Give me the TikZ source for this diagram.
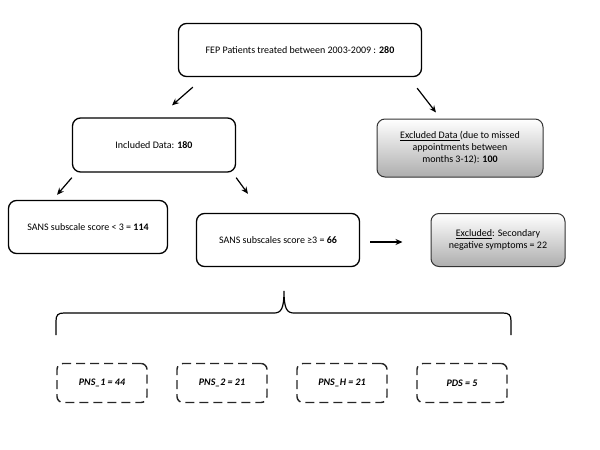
\documentclass[tikz,border=0pt]{standalone}
\usepackage{fontspec}
\setmainfont{Carlito}
\usetikzlibrary{arrows.meta}
\definecolor{boxgrey}{gray}{0.68}
\tikzset{
  roundbox/.style = {draw = black, line width = 1.3pt, rounded corners = 8pt, align = center, font = \fontsize{10}{12}\selectfont},
  greybox/.style = {roundbox, top color = white, bottom color = boxgrey, draw = black!80, line width = 1pt},
  dashbox/.style = {draw = black!85, line width = 1.4pt, rounded corners = 6pt, dash pattern = on 9pt off 5pt, minimum width = 90pt, minimum height = 39pt, font = \fontsize{10}{12}\selectfont\bfseries\itshape},
  arr/.style = {line width = 1.2pt, -{Stealth[length = 7pt, width = 6pt]}}
}
\begin{document}
\begin{tikzpicture}[x = 1pt, y = -1pt]
\useasboundingbox (0,0) rectangle (600,450);
\node[roundbox, minimum width = 243pt, minimum height = 53pt] (fep) at (300,50) {FEP Patients treated between 2003-2009 : \textbf{280}};
\node[roundbox, minimum width = 163pt, minimum height = 54pt] (incl) at (154,145) {Included Data: \textbf{180}};
\node[greybox, minimum width = 166pt, minimum height = 58pt] (excl) at (460,148) {\underline{Excluded Data\ }(due to missed\\appointments between\\months 3-12): \textbf{100}};
\node[roundbox, minimum width = 159pt, minimum height = 53pt] (low) at (88,227) {SANS subscale score < 3 = \textbf{114}};
\node[roundbox, minimum width = 163pt, minimum height = 53pt] (high) at (278,240) {SANS subscales score ≥3 = \textbf{66}};
\node[greybox, minimum width = 134pt, minimum height = 53pt] (sec) at (498,240) {\underline{Excluded}: Secondary\\negative symptoms = 22};
\draw[arr] ([xshift = 15pt, yshift = -10pt]fep.south west) -- ([xshift = 18pt, yshift = 12pt]incl.north);
\draw[arr] ([xshift = -5pt, yshift = -11pt]fep.south east) -- ([xshift = -24pt, yshift = 6pt]excl.north);
\draw[arr] ([yshift = -5pt]incl.south west) -- ([xshift = -31pt, yshift = 5pt]low.north);
\draw[arr] ([yshift = -5pt]incl.south east) -- ([xshift = -30pt, yshift = 19pt]high.north);
\draw[arr] ([xshift = 10pt, yshift = -2pt]high.east) -- ([xshift = -28pt, yshift = -2pt]sec.west);
\draw[line width = 1.2pt] (56,335) -- (56,321) .. controls (56,315) and (58,313) .. (64,313) -- (274,313) .. controls (281,313) and (284,309) .. (284,291) .. controls (284,309) and (287,313) .. (294,313) -- (503,313) .. controls (509,313) and (511,315) .. (511,321) -- (511,335);
\foreach \x/\name/\lab in {102/pa/PNS\_1 = 44, 222/pb/PNS\_2 = 21, 342/ph/PNS\_H = 21, 462/pd/PDS = 5}
  \node[dashbox] (\name) at (\x,383) {\lab};
\end{tikzpicture}
\end{document}
